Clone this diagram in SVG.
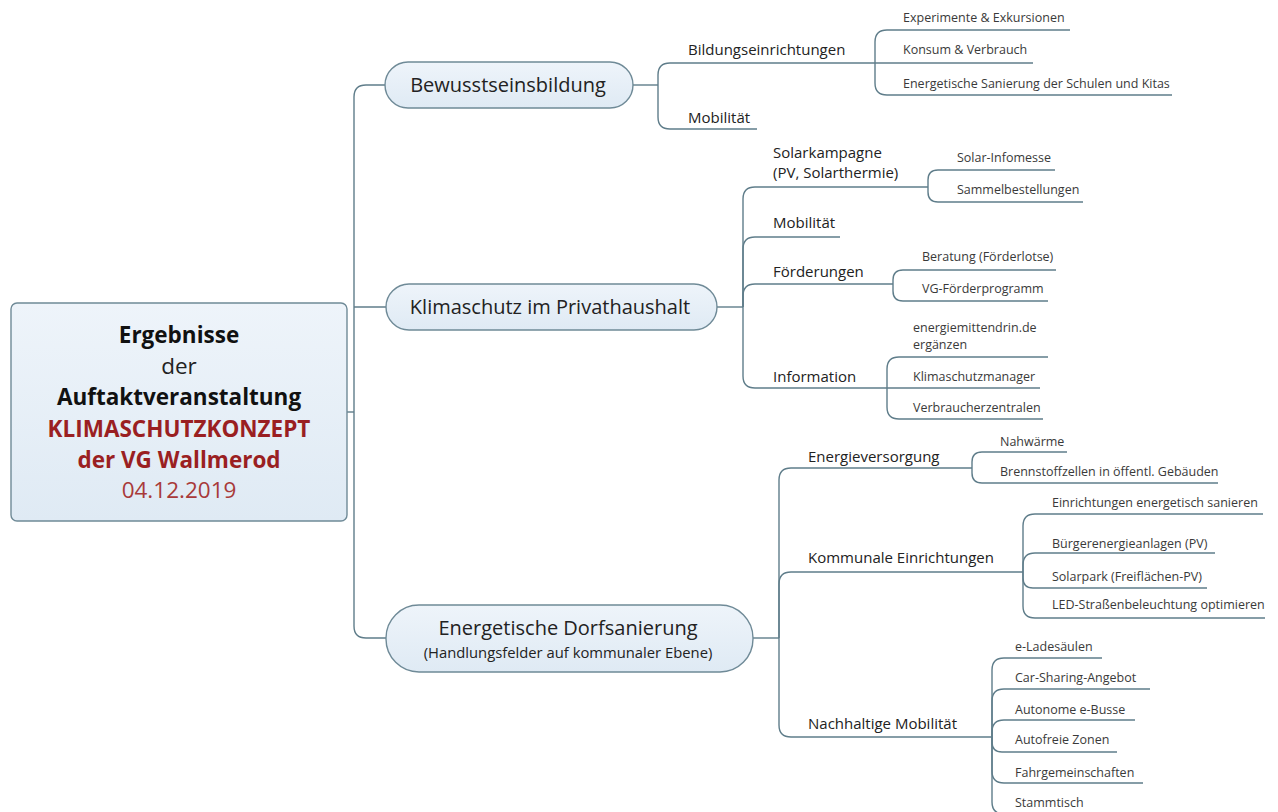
<svg xmlns="http://www.w3.org/2000/svg" width="1278" height="812" viewBox="0 0 1278 812">
<defs>
<linearGradient id="nodeFill" x1="0" y1="0" x2="0" y2="1">
<stop offset="0" stop-color="#eef4fa"/>
<stop offset="1" stop-color="#dfeaf4"/>
</linearGradient>
<style>
.ln{fill:none;stroke:#5f7d8a;stroke-width:1.4}
.node{fill:url(#nodeFill);stroke:#6f8a97;stroke-width:1.4}
.t1{font-family:"Open Sans","Noto Sans",sans-serif;font-size:20px;fill:#222;text-anchor:middle}
.t1s{font-family:"Open Sans","Noto Sans",sans-serif;font-size:14.8px;fill:#222;text-anchor:middle}
.t2{font-family:"Open Sans","Noto Sans",sans-serif;font-size:15px;fill:#222}
.t3{font-family:"Open Sans","Noto Sans",sans-serif;font-size:12.5px;fill:#3a3a3a}
.c{font-family:"Open Sans","Noto Sans",sans-serif;font-size:22.5px;text-anchor:middle}
</style>
</defs>
<rect width="1278" height="812" fill="#ffffff"/>

<g id="connectors">
<path class="ln" d="M386,85 L366,85 Q354,85 354,97 L354,626 Q354,638 366,638 L386,638"/>
<path class="ln" d="M354,307 L387,307"/>
<path class="ln" d="M347,412 L354,412"/>
<path class="ln" d="M633,85 L658,85"/>
<path class="ln" d="M658,85 L658,75 Q658,63 670,63 L875,63"/>
<path class="ln" d="M658,85 L658,117 Q658,129 670,129 L757,129"/>
<path class="ln" d="M875,63 L875,42 Q875,30 887,30 L1070,30"/>
<path class="ln" d="M875,63 L1033,63"/>
<path class="ln" d="M875,63 L875,83 Q875,95 887,95 L1172,95"/>
<path class="ln" d="M717,307 L743,307"/>
<path class="ln" d="M743,307 L743,199 Q743,187 755,187 L928,187"/>
<path class="ln" d="M743,307 L743,249 Q743,237 755,237 L840,237"/>
<path class="ln" d="M743,307 L743,296 Q743,284 755,284 L893,284"/>
<path class="ln" d="M743,307 L743,376 Q743,388 755,388 L887,388"/>
<path class="ln" d="M928,187 L928,180 Q928,170 938,170 L1055,170"/>
<path class="ln" d="M928,187 L928,192 Q928,202 938,202 L1083,202"/>
<path class="ln" d="M893,284 L893,280 Q893,270 903,270 L1056,270"/>
<path class="ln" d="M893,284 L893,291 Q893,301 903,301 L1048,301"/>
<path class="ln" d="M887,388 L887,369 Q887,357 899,357 L1048,357"/>
<path class="ln" d="M887,388 L1040,388"/>
<path class="ln" d="M887,388 L887,407 Q887,419 899,419 L1043,419"/>
<path class="ln" d="M753,638 L779,638"/>
<path class="ln" d="M779,638 L779,480 Q779,468 791,468 L972,468"/>
<path class="ln" d="M779,638 L779,584 Q779,572 791,572 L1023,572"/>
<path class="ln" d="M779,638 L779,725 Q779,737 791,737 L992,737"/>
<path class="ln" d="M972,468 L972,462 Q972,452 982,452 L1067,452"/>
<path class="ln" d="M972,468 L972,473 Q972,483 982,483 L1218,483"/>
<path class="ln" d="M1023,572 L1023,526 Q1023,514 1035,514 L1263,514"/>
<path class="ln" d="M1023,572 L1023,565 Q1023,553 1035,553 L1215,553"/>
<path class="ln" d="M1023,572 L1023,578 Q1023,588 1033,588 L1207,588"/>
<path class="ln" d="M1023,572 L1023,606 Q1023,618 1035,618 L1265,618"/>
<path class="ln" d="M992,737 L992,670 Q992,658 1004,658 L1102,658"/>
<path class="ln" d="M992,737 L992,701 Q992,689 1004,689 L1150,689"/>
<path class="ln" d="M992,737 L992,732 Q992,720 1004,720 L1135,720"/>
<path class="ln" d="M992,737 L992,742 Q992,752 1002,752 L1117,752"/>
<path class="ln" d="M992,737 L992,771 Q992,783 1004,783 L1143,783"/>
<path class="ln" d="M992,737 L992,802 Q992,814 1004,814 L1090,814"/>
</g>

<g id="center">
<rect x="11" y="303" width="336" height="218" rx="6" class="node"/>
<text class="c" x="179" y="343" font-weight="bold" fill="#111">Ergebnisse</text>
<text class="c" x="179" y="374" fill="#222">der</text>
<text class="c" x="179" y="405" font-weight="bold" fill="#111">Auftaktveranstaltung</text>
<text class="c" x="179" y="437" font-weight="bold" fill="#9a1f22">KLIMASCHUTZKONZEPT</text>
<text class="c" x="179" y="468" font-weight="bold" fill="#9a1f22">der VG Wallmerod</text>
<text class="c" x="179" y="498" fill="#a83a3a">04.12.2019</text>
</g>

<g id="n-bewusstsein">
<rect x="385" y="62" width="248" height="46" rx="23" class="node"/>
<text class="t1" x="508" y="92">Bewusstseinsbildung</text>
</g>
<g id="n-klimaschutz">
<rect x="386" y="284" width="331" height="46" rx="23" class="node"/>
<text class="t1" x="550" y="314">Klimaschutz im Privathaushalt</text>
</g>
<g id="n-dorf">
<rect x="386" y="605" width="367" height="67" rx="33" class="node"/>
<text class="t1" x="568" y="635">Energetische Dorfsanierung</text>
<text class="t1s" x="568" y="658">(Handlungsfelder auf kommunaler Ebene)</text>
</g>

<g id="l2">
<text class="t2" x="688" y="55">Bildungseinrichtungen</text>
<text class="t2" x="688" y="123">Mobilität</text>
<text class="t2" x="773" y="158">Solarkampagne</text>
<text class="t2" x="773" y="178">(PV, Solarthermie)</text>
<text class="t2" x="773" y="228">Mobilität</text>
<text class="t2" x="773" y="277">Förderungen</text>
<text class="t2" x="773" y="382">Information</text>
<text class="t2" x="808" y="462">Energieversorgung</text>
<text class="t2" x="808" y="563">Kommunale Einrichtungen</text>
<text class="t2" x="808" y="729">Nachhaltige Mobilität</text>
</g>

<g id="l3">
<text class="t3" x="903" y="22">Experimente &amp; Exkursionen</text>
<text class="t3" x="903" y="54">Konsum &amp; Verbrauch</text>
<text class="t3" x="903" y="88">Energetische Sanierung der Schulen und Kitas</text>
<text class="t3" x="957" y="162">Solar-Infomesse</text>
<text class="t3" x="957" y="194">Sammelbestellungen</text>
<text class="t3" x="922" y="261">Beratung (Förderlotse)</text>
<text class="t3" x="922" y="293">VG-Förderprogramm</text>
<text class="t3" x="913" y="332">energiemittendrin.de</text>
<text class="t3" x="913" y="349">ergänzen</text>
<text class="t3" x="913" y="381">Klimaschutzmanager</text>
<text class="t3" x="913" y="412">Verbraucherzentralen</text>
<text class="t3" x="1000" y="446">Nahwärme</text>
<text class="t3" x="1000" y="476">Brennstoffzellen in öffentl. Gebäuden</text>
<text class="t3" x="1052" y="507">Einrichtungen energetisch sanieren</text>
<text class="t3" x="1052" y="548">Bürgerenergieanlagen (PV)</text>
<text class="t3" x="1052" y="581">Solarpark (Freiflächen-PV)</text>
<text class="t3" x="1052" y="609">LED-Straßenbeleuchtung optimieren</text>
<text class="t3" x="1015" y="651">e-Ladesäulen</text>
<text class="t3" x="1015" y="682">Car-Sharing-Angebot</text>
<text class="t3" x="1015" y="714">Autonome e-Busse</text>
<text class="t3" x="1015" y="744">Autofreie Zonen</text>
<text class="t3" x="1015" y="777">Fahrgemeinschaften</text>
<text class="t3" x="1015" y="807">Stammtisch</text>
</g>
</svg>
